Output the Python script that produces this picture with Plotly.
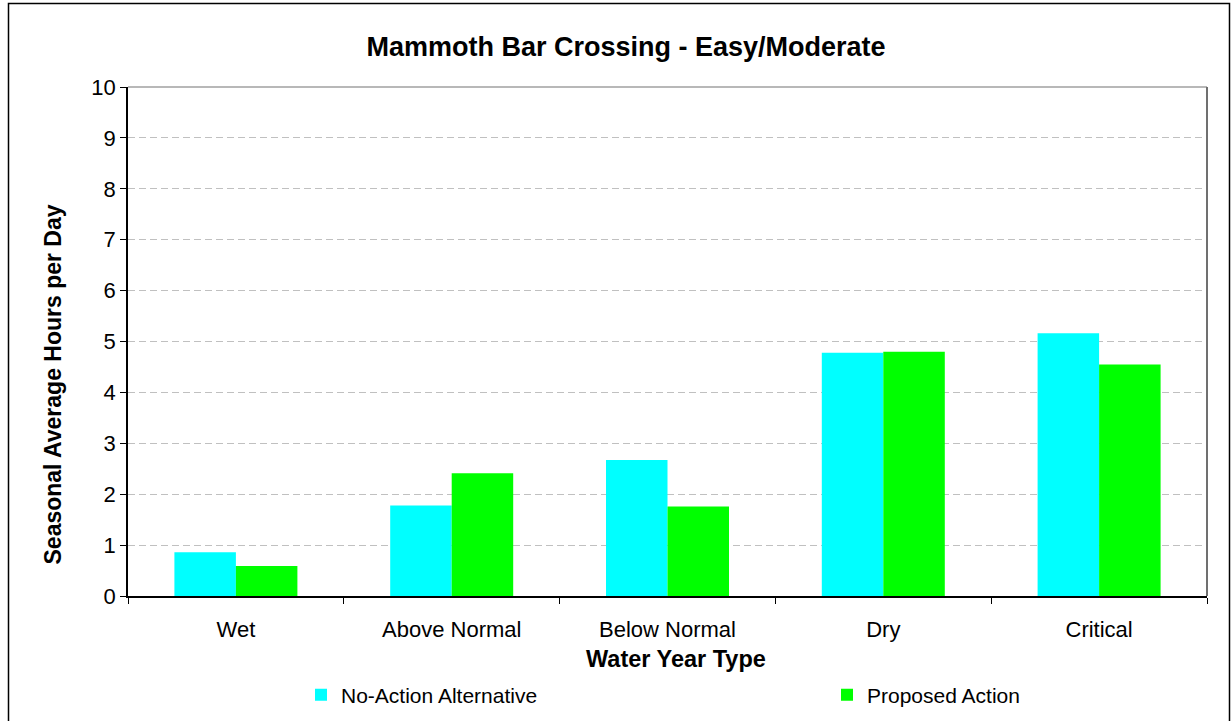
import plotly.graph_objects as go

categories = ["Wet", "Above Normal", "Below Normal", "Dry", "Critical"]
no_action = [0.86, 1.78, 2.67, 4.78, 5.16]
proposed = [0.59, 2.41, 1.76, 4.80, 4.55]
series_names = ["No-Action Alternative", "Proposed Action"]
y_ticks = list(range(0, 11))

FONT = "Liberation Sans, Arial, sans-serif"

W, H = 1231, 721
L, T = 128, 87
R = W - 1207
B = H - 596
pw, ph = W - L - R, H - T - B


def fx(x):  # reference x pixel -> paper
    return (x - L) / pw


def fy(y):  # reference y pixel -> paper
    return (H - B - y) / ph


fig = go.Figure()
fig.add_trace(go.Bar(x=categories, y=no_action, name=series_names[0],
                     marker=dict(color="#00FFFF", line=dict(width=0))))
fig.add_trace(go.Bar(x=categories, y=proposed, name=series_names[1],
                     marker=dict(color="#00FF00", line=dict(width=0))))

fig.update_layout(
    width=W, height=H,
    margin=dict(l=L, r=R, t=T, b=B, autoexpand=False),
    paper_bgcolor="white", plot_bgcolor="white",
    font=dict(family=FONT, size=22, color="black"),
    barmode="group", bargap=0.43, bargroupgap=0,
    title=dict(text="<b>Mammoth Bar Crossing - Easy/Moderate</b>",
               font=dict(family=FONT, size=27, color="black"),
               xref="container", x=626 / W, xanchor="center",
               yref="container", y=1 - 47 / H, yanchor="middle"),
    xaxis=dict(
        type="category",
        showline=True, linecolor="black", linewidth=1.5,
        ticks="outside", ticklen=6, tickcolor="black", tickwidth=1,
        tickson="boundaries",
        ticklabelstandoff=13,
        showgrid=False,
        tickfont=dict(family=FONT, size=22, color="black"),
    ),
    yaxis=dict(
        range=[0, 10], tickvals=y_ticks,
        showline=True, linecolor="black", linewidth=1.5,
        ticks="outside", ticklen=6, tickcolor="black", tickwidth=1,
        showgrid=True, gridcolor="#c0c0c0", gridwidth=1, griddash="7px,4px",
        zeroline=False,
        tickfont=dict(family=FONT, size=22, color="black"),
    ),
    legend=dict(
        orientation="h",
        xref="container", yref="container",
        x=301 / W, xanchor="left",
        y=1 - 695 / H, yanchor="middle",
        entrywidth=481, entrywidthmode="pixels",
        font=dict(family=FONT, size=21, color="black"),
        bgcolor="rgba(0,0,0,0)",
        traceorder="normal",
    ),
    showlegend=True,
)

# axis titles placed where the reference has them
fig.add_annotation(text="<b>Water Year Type</b>", xref="paper", yref="paper",
                   x=fx(676), y=fy(659), xanchor="center", yanchor="middle",
                   showarrow=False,
                   font=dict(family=FONT, size=23.5, color="black"))
fig.add_annotation(text="<b>Seasonal Average Hours per Day</b>", xref="paper", yref="paper",
                   x=fx(52), y=fy(384.5), xanchor="center", yanchor="middle",
                   textangle=-90, showarrow=False,
                   font=dict(family=FONT, size=23, color="black"))

# plot area top and right border (gray)
fig.add_shape(type="line", xref="paper", yref="paper", x0=0, x1=1, y0=1, y1=1,
              line=dict(color="#a0a0a0", width=1.5), layer="above")
fig.add_shape(type="line", xref="paper", yref="paper", x0=1, x1=1, y0=0, y1=1,
              line=dict(color="#707070", width=2), layer="above")
# outer chart border
fig.add_shape(type="rect", xref="paper", yref="paper",
              x0=fx(8.5), x1=fx(1229.5), y0=fy(3.5), y1=fy(740),
              line=dict(color="black", width=1.5), fillcolor="rgba(0,0,0,0)",
              layer="below")

fig.write_html(
    "out.html",
    config={"displayModeBar": False},
    post_script="document.body.style.margin='0';document.body.style.overflow='hidden';",
)
